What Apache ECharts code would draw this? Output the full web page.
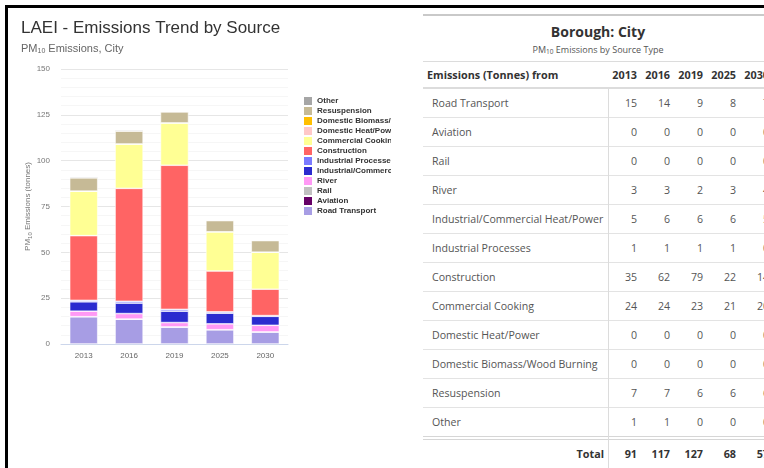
<!DOCTYPE html>
<html>
<head>
<meta charset="utf-8">
<title>LAEI - Emissions Trend by Source</title>
<script src="https://cdn.jsdelivr.net/npm/echarts@6/dist/echarts.min.js"></script>
<style>
  html, body { margin: 0; padding: 0; background: #fff; overflow: hidden; }
  body { width: 764px; height: 468px; position: relative; }
  #chart { position: absolute; left: 0; top: 0; width: 391px; height: 468px; }
  #frame {
    position: absolute; left: 5px; top: 5px; width: 759px; height: 463px;
    border-top: 3px solid #000; border-left: 3px solid #000; box-sizing: border-box;
    pointer-events: none;
  }
  #report {
    position: absolute; left: 423px; top: 0; width: 350px; height: 468px;
    font-family: 'Open Sans', 'DejaVu Sans', sans-serif; color: #555;
  }
  #report .topline { position: absolute; left: 0; right: 0; top: 14px; height: 2px; background: #c9c9c9; }
  #report .cap-title {
    position: absolute; left: 0; right: 0; top: 22px; text-align: center;
    font-size: 14px; line-height: 20px; font-weight: bold; color: #333;
  }
  #report .cap-sub {
    position: absolute; left: 0; right: 0; top: 43px; text-align: center;
    font-size: 9px; line-height: 14px; color: #555;
  }
  #report .cap-sub sub { font-size: 6.5px; vertical-align: -1px; }
  #report .capline { position: absolute; left: 0; right: 0; top: 61px; height: 1px; background: #dcdcdc; }
  .row { position: absolute; left: 0; right: 0; display: flex; box-sizing: border-box; }
  .row .lbl { width: 185px; flex: none; box-sizing: border-box; padding-left: 9px; white-space: nowrap; }
  .row .num { width: 33px; flex: none; box-sizing: border-box; text-align: right; padding-right: 4px; }
  .head { top: 62px; height: 27px; line-height: 26px; font-weight: bold; color: #333; font-size: 10.8px;
          border-bottom: 2px solid #dcdcdc; }
  .head .lbl { padding-left: 4px; }
  .body { height: 29px; line-height: 28px; font-size: 10.6px; border-bottom: 1px solid #e3e3e3; }
  .foot { top: 440px; height: 28px; line-height: 27px; font-weight: bold; color: #333; font-size: 10.8px; }
  .foot .lbl { text-align: right; padding-right: 4px; }
  #report .dbl { position: absolute; left: 0; right: 0; top: 436px; height: 4px; box-sizing: border-box;
                 border-top: 1px solid #d6d6d6; border-bottom: 1px solid #d6d6d6; }
  #report .vline { position: absolute; left: 185px; top: 89px; bottom: 0; width: 1px; background: #dcdcdc; }
</style>
</head>
<body>
<div id="chart"></div>
<div id="report">
  <div class="topline"></div>
  <div class="cap-title">Borough: City</div>
  <div class="cap-sub">PM<sub>10</sub> Emissions by Source Type</div>
  <div class="capline"></div>
  <div id="rows"></div>
  <div class="dbl"></div>
  <div class="vline"></div>
</div>
<div id="frame"></div>
<script>
// PM10 emissions (tonnes), City of London, by source
const years = ['2013', '2016', '2019', '2025', '2030'];
const roadTransport = [14.9, 13.6, 9.3, 7.8, 6.6];
const aviation = [0, 0, 0, 0, 0];
const rail = [0, 0, 0, 0, 0];
const river = [3.0, 3.0, 2.4, 3.2, 3.6];
const industrialCommercial = [5.1, 5.7, 6.2, 5.8, 4.9];
const industrialProcesses = [0.8, 1.0, 1.0, 0.7, 0.4];
const construction = [35.3, 61.6, 78.6, 22.3, 14.4];
const commercialCooking = [24.3, 24.2, 23.1, 21.4, 20.2];
const domesticHeat = [0, 0, 0, 0, 0];
const domesticBiomass = [0, 0, 0, 0, 0];
const resuspension = [7.2, 7.0, 6.0, 6.1, 6.3];
const other = [0.6, 0.6, 0.3, 0.3, 0.3];

// bottom of the stack first (same order as the table)
const sources = [
  { name: 'Road Transport', values: roadTransport },
  { name: 'Aviation', values: aviation },
  { name: 'Rail', values: rail },
  { name: 'River', values: river },
  { name: 'Industrial/Commercial Heat/Power', values: industrialCommercial },
  { name: 'Industrial Processes', values: industrialProcesses },
  { name: 'Construction', values: construction },
  { name: 'Commercial Cooking', values: commercialCooking },
  { name: 'Domestic Heat/Power', values: domesticHeat },
  { name: 'Domestic Biomass/Wood Burning', values: domesticBiomass },
  { name: 'Resuspension', values: resuspension },
  { name: 'Other', values: other },
];
const colors = ['#a79de4', '#660066', '#c0c0c0', '#ff99f5', '#2b2bcf', '#7a7aff',
  '#ff6464', '#ffff94', '#ffc8c8', '#ffbf00', '#c6ba96', '#a6a6a6'];

const font = "'Liberation Sans', Arial, sans-serif";

function renderChart() {
  const myChart = echarts.init(document.getElementById('chart'));
  const option = {
    animation: false,
    textStyle: { fontFamily: font },
    title: {
      text: 'LAEI - Emissions Trend by Source',
      subtext: '{a|PM}{s|10}{a| Emissions, City}',
      left: 16,
      top: 15,
      itemGap: 5,
      textStyle: { fontSize: 17, fontWeight: 'normal', color: '#333', fontFamily: font },
      subtextStyle: {
        rich: {
          a: { fontSize: 11, color: '#666', fontFamily: font },
          s: { fontSize: 7, color: '#666', fontFamily: font, padding: [6, 0, 0, 0] },
        },
      },
    },
    legend: {
      orient: 'vertical',
      left: 299,
      top: 92,
      itemWidth: 8,
      itemHeight: 8,
      itemGap: 2,
      icon: 'rect',
      itemStyle: { borderWidth: 0 },
      data: sources.map(s => s.name).reverse(),
      textStyle: { fontSize: 8, fontWeight: 'bold', color: '#333', fontFamily: font },
    },
    grid: { left: 61, top: 69, width: 227, height: 275 },
    xAxis: {
      type: 'category',
      data: years,
      axisTick: { show: false },
      axisLine: { lineStyle: { color: '#ccd6eb' } },
      axisLabel: { fontSize: 8, color: '#666', margin: 8 },
    },
    yAxis: {
      type: 'value',
      min: 0,
      max: 150,
      interval: 25,
      name: '{a|PM}{s|10}{a| Emissions (tonnes)}',
      nameLocation: 'middle',
      nameGap: 28,
      nameMoveOverlap: false,
      nameTextStyle: {
        rich: {
          a: { fontSize: 8, color: '#777', fontFamily: font },
          s: { fontSize: 6, color: '#777', fontFamily: font, padding: [4, 0, 0, 0] },
        },
      },
      axisLabel: { fontSize: 8, color: '#777', margin: 11 },
      splitLine: { lineStyle: { color: '#e6e6e6' } },
      minorTick: { show: false, splitNumber: 5 },
      minorSplitLine: { show: true, lineStyle: { color: '#f6f6f6' } },
    },
    series: sources.map((s, i) => ({
      name: s.name,
      type: 'bar',
      stack: 'total',
      barWidth: 28,
      data: s.values,
      itemStyle: { color: colors[i], borderColor: '#fff', borderWidth: 0.6 },
    })),
  };
  myChart.setOption(option);
}

function renderTable() {
  const rows = document.getElementById('rows');
  let html = '<div class="row head"><div class="lbl">Emissions (Tonnes) from</div>'
    + years.map(y => `<div class="num">${y}</div>`).join('') + '</div>';
  sources.forEach((s, i) => {
    html += `<div class="row body" style="top:${89 + i * 29}px"><div class="lbl">${s.name}</div>`
      + s.values.map(v => `<div class="num">${Math.round(v)}</div>`).join('') + '</div>';
  });
  // totals come from the unrounded values, like the original report
  const totals = years.map((y, j) => sources.reduce((acc, s) => acc + s.values[j], 0));
  html += '<div class="row foot"><div class="lbl">Total</div>'
    + totals.map(t => `<div class="num">${Math.round(t)}</div>`).join('') + '</div>';
  rows.innerHTML = html;
}

renderChart();
renderTable();
</script>
</body>
</html>
